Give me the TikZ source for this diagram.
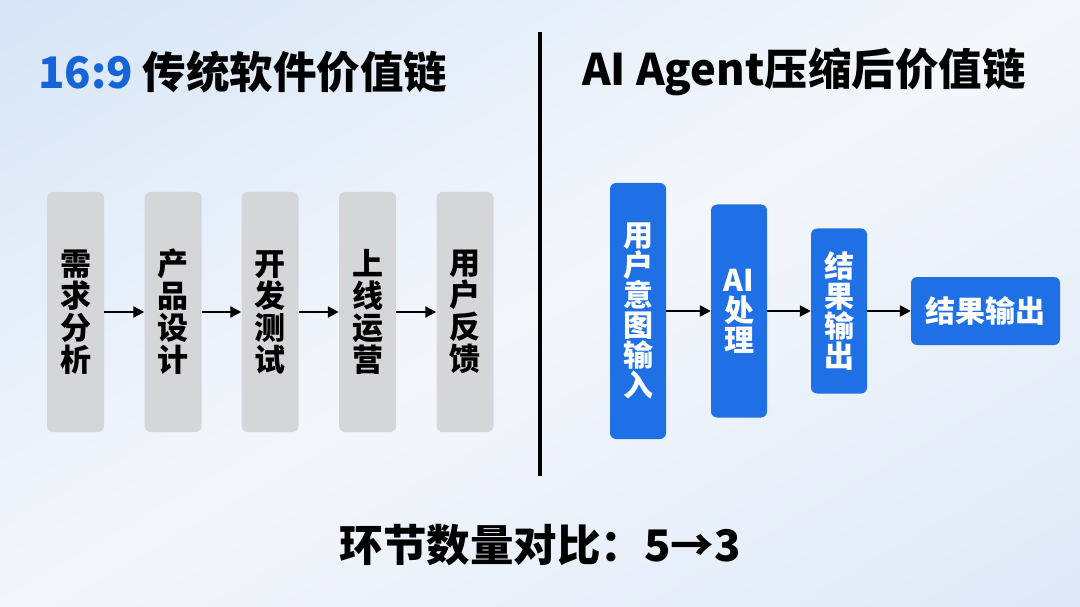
\documentclass[tikz,border=0pt]{standalone}
\usepackage{fontspec}
\setmainfont{Noto Sans CJK SC}
\usetikzlibrary{arrows.meta}

\definecolor{chainblue}{HTML}{1F6FE5}
\definecolor{titleblue}{HTML}{1565D8}
\definecolor{stepgray}{HTML}{D5D6D8}
\definecolor{bgblue}{HTML}{D5E3F6}
\definecolor{bgpale}{HTML}{DCE7F7}
\definecolor{bgmid}{HTML}{F3F7FC}

\pgfdeclareverticalshading{slidebg}{100bp}{color(0bp)=(bgpale); color(12bp)=(bgpale);
  color(50bp)=(bgmid); color(88bp)=(bgblue); color(100bp)=(bgblue)}

\tikzset{
  graystep/.style={fill=stepgray, rounded corners=6pt, minimum width=57pt,
    minimum height=240pt, inner sep=0pt, align=center,
    font=\fontsize{31}{32}\selectfont\bfseries},
  bluestep/.style={fill=chainblue, rounded corners=6pt, inner sep=0pt,
    align=center, text=white, font=\fontsize{30}{30}\selectfont\bfseries},
  flow/.style={-{Triangle[length=11pt,width=11pt]}, line width=2.2pt},
  heading/.style={font=\fontsize{43.5}{46}\selectfont\bfseries, inner sep=0pt}
}

\begin{document}
\begin{tikzpicture}[x=1pt,y=-1pt]
    % Background
    \useasboundingbox (0,0) rectangle (1080,607);
    \shade[shading=slidebg, shading angle=30] (0,0) rectangle (1080,607);

    % Titles and divider
    \node[heading, anchor=west] (lefttitle) at (38,72) {\textcolor{titleblue}{16:9} 传统软件价值链};
    \node[heading, anchor=west] (righttitle) at (582,72) {AI Agent压缩后价值链};
    \draw[line width=3.5pt] (540,32) -- (540,476);

    % Traditional chain
    \node[graystep] (req) at (75.5,312) {需\\求\\分\\析};
    \node[graystep] (design) at (173,312) {产\\品\\设\\计};
    \node[graystep] (dev) at (270,312) {开\\发\\测\\试};
    \node[graystep] (ops) at (367.5,312) {上\\线\\运\\营};
    \node[graystep] (feedback) at (465,312) {用\\户\\反\\馈};
    \draw[flow] (req) -- (design);
    \draw[flow] (design) -- (dev);
    \draw[flow] (dev) -- (ops);
    \draw[flow] (ops) -- (feedback);

    % Agent chain
    \node[bluestep, minimum width=56pt, minimum height=256pt] (intent) at (638,311) {用\\户\\意\\图\\输\\入};
    \node[bluestep, minimum width=56pt, minimum height=213pt] (aiproc) at (739,311) {AI\\处\\理};
    \node[bluestep, minimum width=56pt, minimum height=165pt] (resultv) at (839,311) {结\\果\\输\\出};
    \node[bluestep, minimum width=149pt, minimum height=68pt] (resulth) at (985.5,311) {结果输出};
    \draw[flow] (intent) -- (aiproc);
    \draw[flow] (aiproc) -- (resultv);
    \draw[flow] (resultv) -- (resulth);

    % Summary
    \node[heading] (summary) at (540,545) {环节数量对比：5→3};
\end{tikzpicture}
\end{document}
